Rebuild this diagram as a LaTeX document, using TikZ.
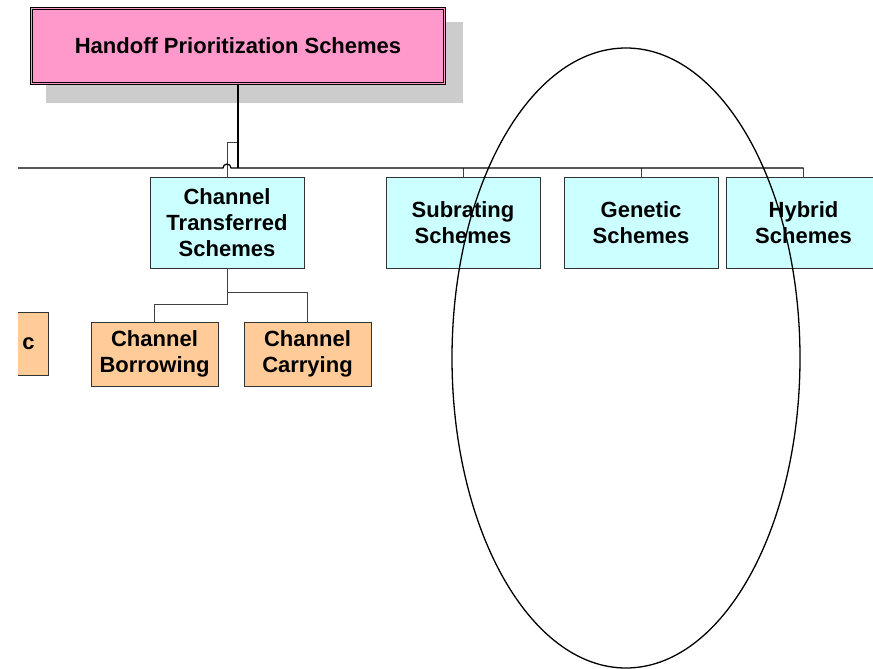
\documentclass[tikz,border=0pt]{standalone}
\usepackage{fontspec}
\setmainfont{Liberation Sans}
\definecolor{titlepink}{RGB}{255,153,204}
\definecolor{schemecyan}{RGB}{204,255,255}
\definecolor{suborange}{RGB}{255,204,153}
\begin{document}
\begin{tikzpicture}[x=1pt,y=-1pt,
    title_node/.style={rectangle,draw=black,fill=titlepink,double=titlepink,double distance=1.6pt,line width=0.9pt,minimum width=413pt,minimum height=75pt,font=\bfseries\fontsize{22}{26}\selectfont},
    scheme_node/.style={rectangle,draw=black!80,fill=schemecyan,line width=0.9pt,minimum width=154pt,minimum height=91pt,align=center,font=\bfseries\fontsize{22}{26}\selectfont},
    sub_node/.style={rectangle,draw=black!80,fill=suborange,line width=0.9pt,minimum width=127pt,minimum height=64pt,inner sep=4pt,align=center,font=\bfseries\fontsize{22}{26}\selectfont},
    main_line/.style={draw=black,line width=1.4pt},
    bus_line/.style={draw=black,line width=1.2pt},
    link_line/.style={draw=black!75,line width=0.8pt},
    oval_line/.style={draw=black,line width=1.3pt}]
    \useasboundingbox (0,0) rectangle (873,669);
    \clip (18,0) rectangle (873,669);

    % shadow of the title box
    \fill[black!20] (46,22) rectangle (463,103);
    \node[title_node] (hps) at (238,46) {Handoff Prioritization Schemes};

    \node[scheme_node] (cts) at (227,222.5) {Channel\\Transferred\\Schemes};
    \node[scheme_node] (sub) at (463,222.5) {Subrating\\Schemes};
    \node[scheme_node] (gen) at (641,222.5) {Genetic\\Schemes};
    \node[scheme_node] (hyb) at (803.5,222.5) {Hybrid\\Schemes};

    \node[sub_node,anchor=east,minimum height=63pt,inner xsep=14pt,text width=99pt,align=right] (stc) at (49,343.5) {c};
    \node[sub_node] (cb) at (154.5,354) {Channel\\Borrowing};
    \node[sub_node] (cc) at (307.5,354) {Channel\\Carrying};

    \coordinate (bus) at (238,168);
    \coordinate (bus_left) at (18,168);

    \draw[link_line] (cts.north) -- ++(0,-34) -- ++(11,0);
    \draw[link_line] (sub.north) -- (sub.north |- bus);
    \draw[link_line] (gen.north) -- (gen.north |- bus);
    \draw[link_line] (hyb.north) -- (hyb.north |- bus);
    \draw[link_line] (cts.south) -- ++(0,36) -| (cb.north);
    \draw[link_line] (cts.south) -- ++(0,24) -| (cc.north);

    \draw[bus_line] (bus_left) -- (223,168) arc[start angle=180,end angle=360,radius=4] -- (hyb.north |- bus);
    \draw[main_line] (hps.south) -- (bus);

    \draw[oval_line] (626,358) ellipse [x radius=174,y radius=310];
\end{tikzpicture}
\end{document}
